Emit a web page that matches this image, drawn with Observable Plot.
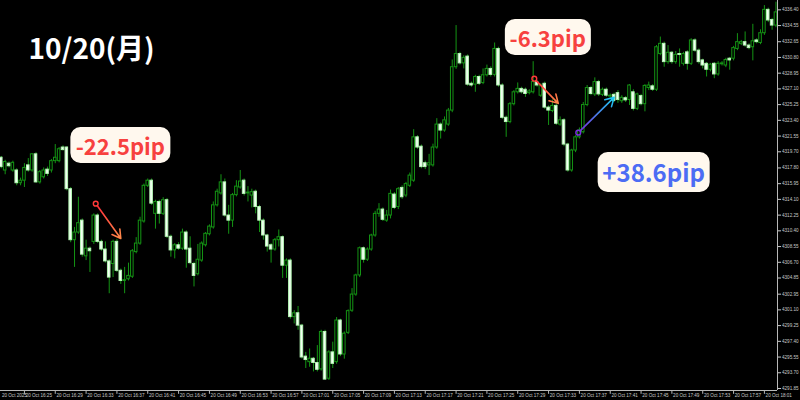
<!DOCTYPE html>
<html><head><meta charset="utf-8">
<script src="https://cdn.jsdelivr.net/npm/d3@7"></script>
<script src="https://cdn.jsdelivr.net/npm/@observablehq/plot@0.6"></script>
<style>
html,body{margin:0;padding:0;background:#000;}
#wrap{position:relative;width:800px;height:400px;overflow:hidden;background:#000;}
.pip{position:absolute;transform:translate(-50%,-50%);background:#fff8ee;border-radius:10px;font-family:"Noto Sans CJK JP","Noto Sans",sans-serif;font-weight:700;white-space:nowrap;line-height:1;}
</style></head><body><div id="wrap"></div>
<script>
// ---- data (prices), one entry per bar ----
const opens = [4319.0,4317.5,4318.3,4317.5,4317.5,4316.0,4316.3,4318.1,4317.5,4319.4,
4316.1,4316.7,4317.6,4317.5,4318.6,4318.6,4320.2,4320.2,4315.3,4309.3,
4310.2,4311.6,4307.4,4308.3,4309.1,4312.2,4309.1,4308.2,4306.8,4306.5,
4309.1,4305.7,4304.5,4304.7,4305.0,4307.9,4308.9,4311.5,4315.7,4316.3,
4312.4,4313.8,4312.4,4314.0,4309.7,4308.1,4308.7,4308.3,4310.2,4308.3,
4306.5,4305.3,4306.9,4308.7,4310.0,4310.8,4313.4,4314.8,4316.1,4312.2,
4311.6,4314.6,4315.5,4316.3,4314.8,4314.55,4315.0,4313.2,4311.6,4309.85,
4308.7,4308.2,4309.3,4309.65,4306.3,4306.9,4300.25,4300.7,4299.25,4295.6,
4294.95,4295.35,4294.85,4294.1,4298.5,4293.0,4296.1,4294.95,4299.85,4295.85,
4298.4,4301.0,4302.9,4305.15,4308.35,4307.0,4308.2,4309.85,4312.4,4312.9,
4311.6,4312.2,4314.67,4313.2,4315.45,4314.55,4315.7,4316.3,4321.4,4320.3,
4318.35,4318.1,4318.1,4320.2,4322.9,4322.2,4322.9,4324.55,4329.65,4331.2,
4330.1,4330.9,4327.7,4327.6,4328.5,4327.8,4328.7,4329.45,4328.75,4331.8,
4327.5,4323.7,4323.2,4325.3,4326.7,4327.1,4327.0,4326.6,4326.7,4327.9,
4326.3,4327.7,4324.9,4324.5,4325.1,4322.9,4323.4,4320.55,4317.5,4319.85,
4321.4,4322.0,4325.2,4327.2,4326.45,4327.9,4326.4,4327.0,4326.2,4326.4,
4326.6,4325.65,4326.0,4325.8,4326.7,4324.75,4326.25,4325.3,4327.2,4327.4,
4327.0,4331.2,4332.4,4330.25,4331.35,4330.25,4331.2,4330.05,4331.4,4330.05,
4332.8,4331.6,4330.45,4330.05,4329.35,4330.05,4328.8,4330.0,4329.85,4330.65,
4330.65,4331.8,4332.4,4332.6,4332.2,4332.0,4332.8,4332.5,4333.65,4336.4,
4335.2,4334.55];
const highs = [4319.15,4318.7,4318.5,4318.6,4317.7,4316.6,4318.3,4318.9,4319.5,4319.6,
4317.5,4317.8,4317.9,4318.8,4320.55,4320.2,4320.4,4320.3,4315.5,4310.8,
4314.35,4311.8,4309.3,4308.5,4312.4,4312.4,4309.3,4309.1,4307.0,4309.3,
4309.4,4305.9,4306.1,4306.6,4308.2,4309.6,4312.0,4315.9,4316.5,4316.5,
4314.0,4314.0,4314.3,4314.2,4309.9,4308.9,4309.0,4310.6,4310.4,4309.7,
4306.7,4308.8,4309.1,4310.2,4311.1,4313.8,4315.3,4317.0,4316.5,4313.4,
4314.8,4316.3,4317.5,4316.5,4315.6,4315.3,4315.2,4313.4,4311.8,4310.0,
4308.9,4309.5,4310.5,4309.8,4307.1,4307.1,4301.0,4301.5,4299.4,4296.1,
4296.5,4295.5,4296.9,4298.7,4298.7,4296.3,4297.3,4300.2,4300.0,4298.5,
4301.1,4303.6,4305.3,4308.5,4308.5,4308.4,4310.0,4312.7,4313.6,4313.1,
4312.8,4315.2,4314.9,4315.5,4315.7,4316.1,4317.2,4322.3,4321.6,4320.5,
4318.6,4319.4,4320.6,4323.6,4323.1,4323.8,4324.8,4330.5,4334.55,4331.4,
4331.0,4331.1,4327.9,4328.7,4328.7,4329.45,4329.9,4329.7,4332.5,4332.0,
4327.7,4323.9,4325.5,4326.9,4327.8,4327.3,4327.2,4327.0,4330.3,4328.1,
4327.7,4327.9,4325.1,4325.8,4325.3,4323.8,4323.6,4320.7,4320.0,4321.6,
4322.5,4325.5,4327.5,4327.4,4328.4,4328.1,4327.2,4327.2,4326.5,4326.6,
4326.9,4326.3,4326.2,4327.6,4327.0,4326.6,4326.45,4327.6,4327.9,4327.6,
4332.2,4333.2,4332.6,4332.2,4331.5,4331.5,4331.8,4331.4,4331.6,4333.0,
4333.0,4331.8,4330.6,4330.2,4330.1,4330.2,4330.3,4330.3,4330.7,4330.8,
4332.1,4333.6,4332.8,4333.8,4332.4,4334.7,4333.0,4334.05,4336.9,4336.6,
4335.4,4337.3];
const lows = [4317.7,4317.0,4317.8,4317.3,4315.7,4315.7,4315.5,4317.3,4317.3,4316.0,
4315.9,4316.5,4316.8,4317.2,4318.3,4318.4,4319.8,4315.1,4309.0,4306.1,
4310.0,4307.3,4306.9,4305.5,4308.8,4308.9,4308.0,4306.6,4303.0,4304.9,
4305.5,4304.1,4303.0,4304.5,4304.8,4307.7,4308.7,4311.3,4315.5,4313.4,
4310.6,4311.2,4312.2,4309.5,4307.3,4307.1,4308.1,4308.1,4306.0,4306.4,
4303.8,4305.1,4306.7,4308.5,4309.8,4310.6,4313.2,4314.6,4312.0,4310.0,
4310.8,4314.4,4315.3,4314.5,4313.8,4313.1,4312.4,4310.2,4309.3,4307.9,
4306.6,4308.0,4308.5,4304.8,4304.8,4300.0,4299.45,4298.7,4295.3,4294.2,
4294.35,4293.8,4293.8,4293.9,4292.8,4292.8,4294.2,4294.7,4295.6,4295.3,
4298.2,4300.8,4302.7,4304.9,4306.6,4306.8,4308.0,4309.65,4312.0,4311.5,
4311.4,4311.8,4312.9,4312.9,4314.1,4314.3,4315.5,4316.1,4320.0,4317.7,
4317.6,4316.9,4317.9,4320.0,4321.2,4322.0,4322.7,4324.3,4329.4,4329.9,
4329.45,4327.4,4327.3,4326.7,4327.5,4327.6,4328.5,4328.5,4328.5,4327.3,
4323.5,4321.4,4323.0,4325.1,4326.5,4326.5,4326.1,4326.4,4326.5,4327.3,
4326.1,4324.7,4322.8,4324.3,4322.8,4322.7,4320.3,4317.3,4317.3,4319.6,
4321.2,4321.8,4325.0,4326.3,4326.2,4326.2,4326.2,4326.1,4326.0,4325.5,
4325.4,4325.4,4325.5,4325.15,4324.5,4324.55,4325.1,4324.4,4326.9,4326.8,
4326.8,4331.0,4329.65,4330.0,4330.0,4330.0,4329.65,4329.8,4329.3,4329.85,
4331.4,4330.0,4329.45,4328.5,4329.1,4328.3,4328.6,4329.8,4329.6,4329.3,
4330.4,4331.6,4332.2,4332.0,4331.7,4330.4,4332.4,4332.3,4333.4,4334.9,
4334.0,4334.3];
const closes = [4317.9,4318.5,4318.0,4318.4,4316.0,4316.3,4317.8,4317.5,4319.4,4316.1,
4317.3,4317.5,4317.1,4318.6,4319.0,4320.0,4319.9,4315.3,4309.3,4310.2,
4311.3,4307.6,4308.3,4308.0,4312.2,4309.1,4308.2,4306.8,4304.9,4309.1,
4305.7,4304.5,4304.6,4305.1,4308.0,4308.9,4311.6,4315.7,4316.3,4313.6,
4313.8,4312.4,4314.0,4309.7,4308.1,4308.7,4308.3,4310.2,4308.2,4306.6,
4305.1,4307.0,4308.9,4310.05,4310.9,4313.4,4315.0,4316.1,4312.2,4311.6,
4314.6,4315.6,4316.2,4314.75,4314.9,4314.95,4313.2,4311.6,4309.85,4308.55,
4308.2,4309.3,4309.65,4306.3,4306.9,4300.25,4300.7,4299.25,4295.5,4295.2,
4295.35,4294.85,4294.05,4298.5,4292.9,4296.1,4294.75,4299.85,4295.85,4298.3,
4300.95,4302.9,4305.15,4308.35,4307.0,4308.2,4309.85,4312.4,4312.9,4311.7,
4312.2,4314.75,4313.1,4315.3,4314.35,4315.9,4316.9,4321.4,4320.2,4317.9,
4317.9,4318.35,4320.2,4322.9,4322.2,4323.4,4324.55,4329.65,4331.2,4330.1,
4330.75,4327.6,4327.5,4328.5,4327.7,4328.7,4329.45,4328.75,4331.8,4327.5,
4323.7,4323.2,4325.3,4326.7,4327.1,4326.7,4326.5,4326.8,4327.9,4327.5,
4327.5,4324.9,4324.55,4325.1,4323.0,4323.4,4320.55,4317.5,4319.85,4321.4,
4322.2,4325.2,4327.2,4326.5,4327.9,4326.45,4327.0,4326.3,4326.3,4325.7,
4325.8,4326.05,4325.75,4327.5,4324.75,4326.45,4325.3,4327.45,4327.5,4327.0,
4332.0,4332.4,4330.25,4331.35,4330.25,4331.1,4331.1,4331.2,4330.05,4332.8,
4331.6,4330.25,4329.85,4329.35,4329.95,4328.8,4330.05,4330.1,4330.5,4330.45,
4331.9,4332.6,4332.6,4332.2,4331.9,4332.7,4332.6,4333.65,4336.4,4335.15,
4334.55,4336.1];

const yTicks = [4291.85,4293.70,4295.55,4297.40,4299.25,4301.10,4302.95,4304.85,4306.70,4308.55,
4310.40,4312.25,4314.10,4315.95,4317.80,4319.70,4321.55,4323.40,4325.25,4327.10,
4328.95,4330.80,4332.65,4334.55,4336.40];
const xTickLabels = ["20 Oct 2025","20 Oct 16:25","20 Oct 16:29","20 Oct 16:33","20 Oct 16:37","20 Oct 16:41",
"20 Oct 16:45","20 Oct 16:49","20 Oct 16:53","20 Oct 16:57","20 Oct 17:01","20 Oct 17:05","20 Oct 17:09",
"20 Oct 17:13","20 Oct 17:17","20 Oct 17:21","20 Oct 17:25","20 Oct 17:29","20 Oct 17:33","20 Oct 17:37",
"20 Oct 17:41","20 Oct 17:45","20 Oct 17:49","20 Oct 17:53","20 Oct 17:57","20 Oct 18:01"];
const BARS_PER_LABEL = 8, FIRST_LABEL_BAR = -2;

// annotations (bar index, price)
const arrowFromBar = [24.5, 138.3, 149.7];
const arrowFromPrice = [4313.6, 4328.3, 4321.95];
const arrowToBar = [31.0, 144.5, 159.0];
const arrowToPrice = [4309.5, 4325.4, 4326.1];
const pipTexts = ["-22.5pip", "-6.3pip", "+38.6pip"];
const pipBar = [31, 141.9, 169.4];
const pipPrice = [4320.4, 4333.1, 4317.3];
const dateTitle = "10/20(月)";

// ---- build ----
const bars = opens.map((o, i) => ({i, o, h: highs[i], l: lows[i], c: closes[i]}));
const bulls = bars.filter(d => d.c >= d.o);
const bears = bars.filter(d => d.c < d.o);
const xTicks = xTickLabels.map((t, k) => ({bar: FIRST_LABEL_BAR + BARS_PER_LABEL * k, t}));
const arrows = arrowFromBar.map((b, k) => ({x1: b, y1: arrowFromPrice[k], x2: arrowToBar[k], y2: arrowToPrice[k], k}));
const yMin = 4291.615, yMax = 4337.5, xMin = -0.21, xMax = 201.4;
const GREEN = "#149414";
const AXIS = "#c8c8c8";

const chart = Plot.plot({
  width: 800, height: 400,
  marginLeft: 0, marginRight: 23, marginTop: 0, marginBottom: 10,
  style: {background: "#000", color: AXIS, fontFamily: "Liberation Sans, Arial, sans-serif", fontSize: "4.6px", overflow: "visible"},
  x: {domain: [xMin, xMax], axis: null},
  y: {domain: [yMin, yMax], axis: "right", ticks: yTicks, tickFormat: d => d.toFixed(2), tickSize: 3, tickPadding: 1.5, label: null},
  marks: [
    Plot.ruleX(bars, {x: "i", y1: "l", y2: "h", stroke: GREEN, strokeWidth: 1}),
    Plot.rect(bulls, {x1: d => d.i - 0.33, x2: d => d.i + 0.33, y1: "o", y2: "c", fill: "#000", stroke: GREEN, strokeWidth: 1}),
    Plot.rect(bears, {x1: d => d.i - 0.33, x2: d => d.i + 0.33, y1: "c", y2: "o", fill: "#f4fff4", stroke: "#b4f7b4", strokeWidth: 1}),
    Plot.ruleX([xMax], {stroke: "#b8b8b8", strokeWidth: 1}),
    Plot.ruleY([yMin], {stroke: "#b8b8b8", strokeWidth: 1}),
    Plot.ruleX(xTicks, {x: "bar", y1: yMin, y2: yMin - 0.45, stroke: "#b8b8b8"}),
    Plot.text(xTicks, {x: d => Math.max(d.bar, xMin + 0.05), y: () => yMin, text: "t", dy: 5.2, dx: 1.2, textAnchor: "start", fill: AXIS, fontSize: 4.6}),
    Plot.arrow(arrows, {x1: "x1", y1: "y1", x2: "x2", y2: "y2", stroke: d => `url(#ag${d.k})`, strokeWidth: 1.6, headLength: 9, insetStart: 3}),
    Plot.dot(arrows, {x: "x1", y: "y1", r: 2.4, fill: "none", stroke: d => ["#ff3a3a","#ff3a3a","#7a2fe0"][d.k], strokeWidth: 1.4}),
    Plot.text([dateTitle], {frameAnchor: "top-left", text: d => d, dx: 28, dy: 39, textAnchor: "start", fill: "#fff", fontSize: 28, fontWeight: 700, fontFamily: "Noto Sans CJK JP"})
  ]
});

// gradients for the arrows
const ns = "http://www.w3.org/2000/svg";
const defs = document.createElementNS(ns, "defs");
const gradSpecs = [
  ["ag0", "#ff2f3a", "#ff8a4a", 0, 0, 1, 1],
  ["ag1", "#ff2f3a", "#ff8a4a", 0, 0, 1, 1],
  ["ag2", "#7a2fe0", "#19cdf2", 0, 1, 1, 0]
];
for (const [id, c1, c2, x1, y1, x2, y2] of gradSpecs) {
  const g = document.createElementNS(ns, "linearGradient");
  g.setAttribute("id", id);
  g.setAttribute("x1", x1); g.setAttribute("y1", y1); g.setAttribute("x2", x2); g.setAttribute("y2", y2);
  for (const [off, col] of [[0, c1], [1, c2]]) {
    const s = document.createElementNS(ns, "stop");
    s.setAttribute("offset", off); s.setAttribute("stop-color", col);
    g.appendChild(s);
  }
  defs.appendChild(g);
}
chart.prepend(defs);

const wrap = document.getElementById("wrap");
wrap.appendChild(chart);

// pip labels as boxes, anchored through the chart's scales
const sx = chart.scale("x"), sy = chart.scale("y");
const pipColors = ["#f7413f", "#f7413f", "#4c6cf4"];
const pipSizes = [22, 22, 24];
pipTexts.forEach((t, k) => {
  const div = document.createElement("div");
  div.className = "pip";
  div.textContent = t;
  div.style.left = sx.apply(pipBar[k]) + "px";
  div.style.top = sy.apply(pipPrice[k]) + "px";
  div.style.color = pipColors[k];
  div.style.fontSize = pipSizes[k] + "px";
  div.style.padding = k === 2 ? "8px 5px 8px 5px" : "7px 5px 7px 5px";
  wrap.appendChild(div);
});
</script>
</body></html>
